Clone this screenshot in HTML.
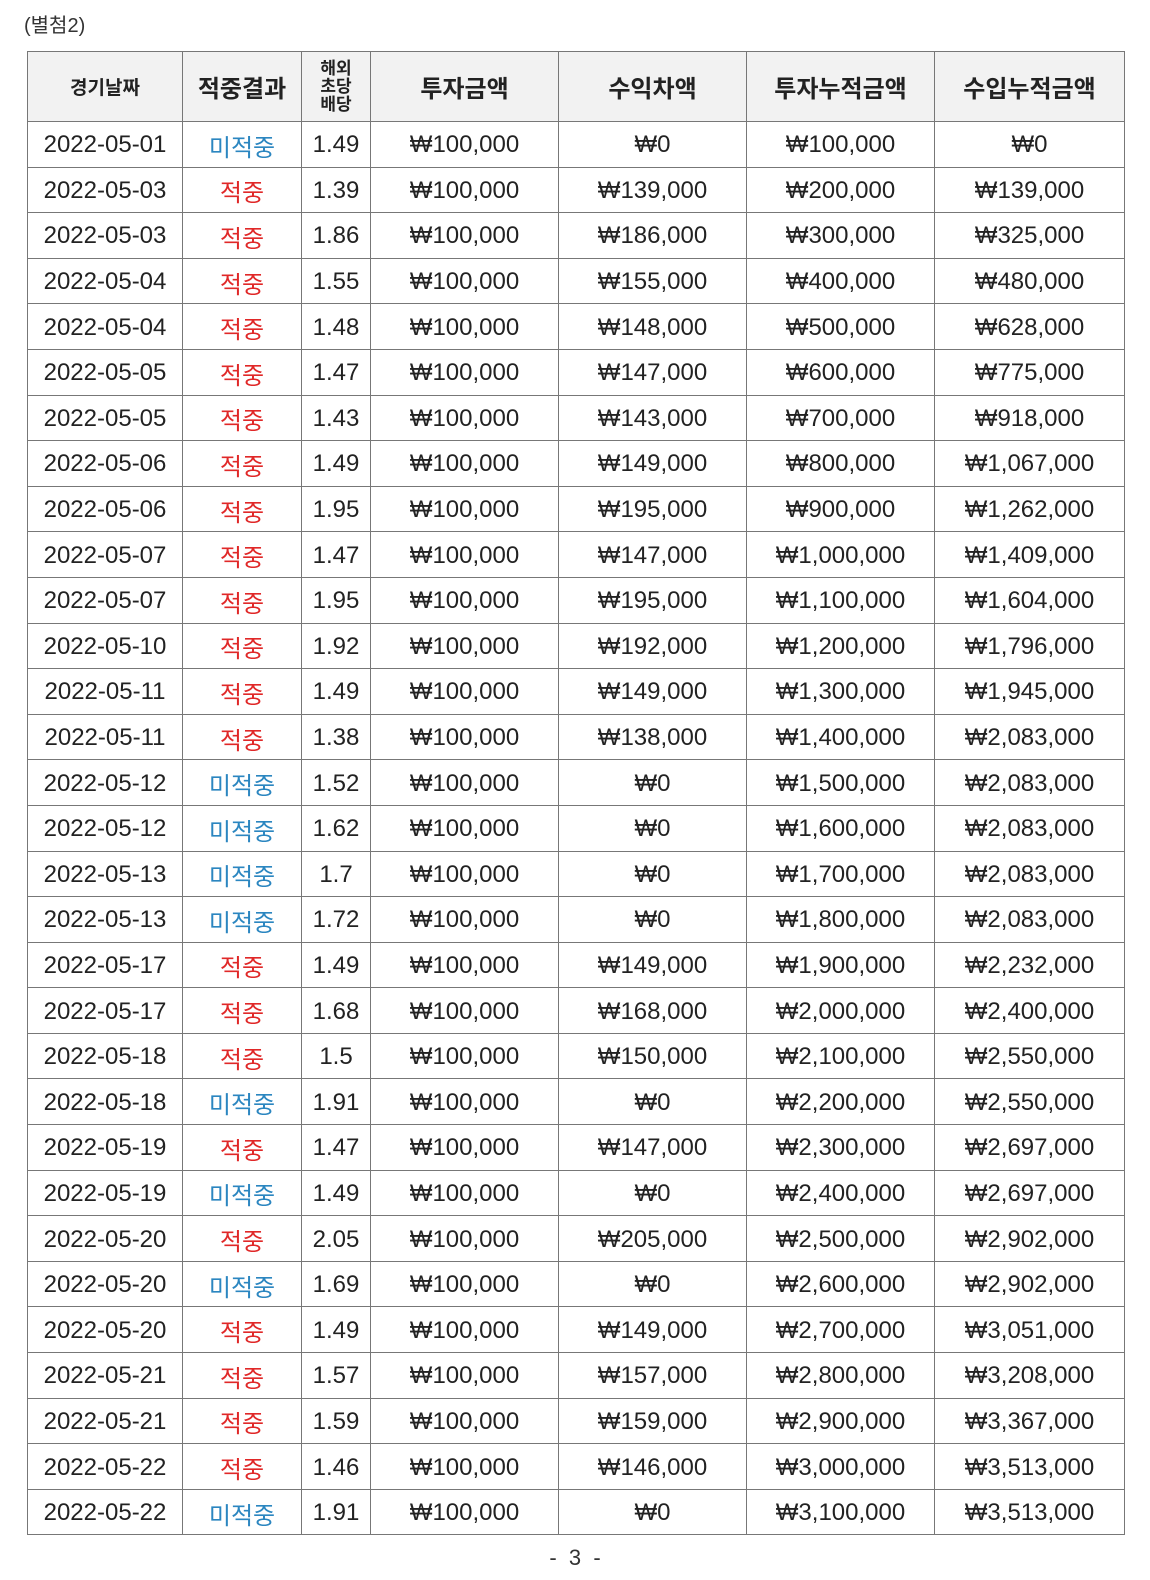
<!DOCTYPE html>
<html><head><meta charset="utf-8">
<style>
body{margin:0;width:1150px;height:1580px;background:#fff;position:relative;font-family:"Liberation Sans","Noto Sans CJK KR",sans-serif;color:#222;}
.cap{position:absolute;left:24px;top:9px;font-size:20px;color:#333;}
table{position:absolute;left:27px;top:51px;border-collapse:collapse;table-layout:fixed;width:1097px;}
td,th{border:1.5px solid #777;text-align:center;padding:0;font-size:24px;font-weight:normal;white-space:nowrap;overflow:hidden;}
td{padding-top:2px;}
th{background:#f2f2f2;font-weight:bold;font-size:24px;height:69px;color:#222;}
th.s{font-size:19px;}
th.t{font-size:17px;line-height:18px;}
tr.r td{height:42.6px;}
.b{color:#2b86c0;}
.r2{color:#e02828;}
.pg{position:absolute;left:0;width:1150px;top:1545px;text-align:center;font-size:22px;color:#333;}
</style></head><body>
<div class="cap">(별첨2)</div>
<table>
<colgroup><col style="width:155px"><col style="width:119px"><col style="width:69px"><col style="width:188px"><col style="width:188px"><col style="width:188px"><col style="width:190px"></colgroup>
<tr><th class="s">경기날짜</th><th>적중결과</th><th class="t">해외<br>초당<br>배당</th><th>투자금액</th><th>수익차액</th><th>투자누적금액</th><th>수입누적금액</th></tr>
<tr class="r"><td>2022-05-01</td><td class="b">미적중</td><td>1.49</td><td>₩100,000</td><td>₩0</td><td>₩100,000</td><td>₩0</td></tr>
<tr class="r"><td>2022-05-03</td><td class="r2">적중</td><td>1.39</td><td>₩100,000</td><td>₩139,000</td><td>₩200,000</td><td>₩139,000</td></tr>
<tr class="r"><td>2022-05-03</td><td class="r2">적중</td><td>1.86</td><td>₩100,000</td><td>₩186,000</td><td>₩300,000</td><td>₩325,000</td></tr>
<tr class="r"><td>2022-05-04</td><td class="r2">적중</td><td>1.55</td><td>₩100,000</td><td>₩155,000</td><td>₩400,000</td><td>₩480,000</td></tr>
<tr class="r"><td>2022-05-04</td><td class="r2">적중</td><td>1.48</td><td>₩100,000</td><td>₩148,000</td><td>₩500,000</td><td>₩628,000</td></tr>
<tr class="r"><td>2022-05-05</td><td class="r2">적중</td><td>1.47</td><td>₩100,000</td><td>₩147,000</td><td>₩600,000</td><td>₩775,000</td></tr>
<tr class="r"><td>2022-05-05</td><td class="r2">적중</td><td>1.43</td><td>₩100,000</td><td>₩143,000</td><td>₩700,000</td><td>₩918,000</td></tr>
<tr class="r"><td>2022-05-06</td><td class="r2">적중</td><td>1.49</td><td>₩100,000</td><td>₩149,000</td><td>₩800,000</td><td>₩1,067,000</td></tr>
<tr class="r"><td>2022-05-06</td><td class="r2">적중</td><td>1.95</td><td>₩100,000</td><td>₩195,000</td><td>₩900,000</td><td>₩1,262,000</td></tr>
<tr class="r"><td>2022-05-07</td><td class="r2">적중</td><td>1.47</td><td>₩100,000</td><td>₩147,000</td><td>₩1,000,000</td><td>₩1,409,000</td></tr>
<tr class="r"><td>2022-05-07</td><td class="r2">적중</td><td>1.95</td><td>₩100,000</td><td>₩195,000</td><td>₩1,100,000</td><td>₩1,604,000</td></tr>
<tr class="r"><td>2022-05-10</td><td class="r2">적중</td><td>1.92</td><td>₩100,000</td><td>₩192,000</td><td>₩1,200,000</td><td>₩1,796,000</td></tr>
<tr class="r"><td>2022-05-11</td><td class="r2">적중</td><td>1.49</td><td>₩100,000</td><td>₩149,000</td><td>₩1,300,000</td><td>₩1,945,000</td></tr>
<tr class="r"><td>2022-05-11</td><td class="r2">적중</td><td>1.38</td><td>₩100,000</td><td>₩138,000</td><td>₩1,400,000</td><td>₩2,083,000</td></tr>
<tr class="r"><td>2022-05-12</td><td class="b">미적중</td><td>1.52</td><td>₩100,000</td><td>₩0</td><td>₩1,500,000</td><td>₩2,083,000</td></tr>
<tr class="r"><td>2022-05-12</td><td class="b">미적중</td><td>1.62</td><td>₩100,000</td><td>₩0</td><td>₩1,600,000</td><td>₩2,083,000</td></tr>
<tr class="r"><td>2022-05-13</td><td class="b">미적중</td><td>1.7</td><td>₩100,000</td><td>₩0</td><td>₩1,700,000</td><td>₩2,083,000</td></tr>
<tr class="r"><td>2022-05-13</td><td class="b">미적중</td><td>1.72</td><td>₩100,000</td><td>₩0</td><td>₩1,800,000</td><td>₩2,083,000</td></tr>
<tr class="r"><td>2022-05-17</td><td class="r2">적중</td><td>1.49</td><td>₩100,000</td><td>₩149,000</td><td>₩1,900,000</td><td>₩2,232,000</td></tr>
<tr class="r"><td>2022-05-17</td><td class="r2">적중</td><td>1.68</td><td>₩100,000</td><td>₩168,000</td><td>₩2,000,000</td><td>₩2,400,000</td></tr>
<tr class="r"><td>2022-05-18</td><td class="r2">적중</td><td>1.5</td><td>₩100,000</td><td>₩150,000</td><td>₩2,100,000</td><td>₩2,550,000</td></tr>
<tr class="r"><td>2022-05-18</td><td class="b">미적중</td><td>1.91</td><td>₩100,000</td><td>₩0</td><td>₩2,200,000</td><td>₩2,550,000</td></tr>
<tr class="r"><td>2022-05-19</td><td class="r2">적중</td><td>1.47</td><td>₩100,000</td><td>₩147,000</td><td>₩2,300,000</td><td>₩2,697,000</td></tr>
<tr class="r"><td>2022-05-19</td><td class="b">미적중</td><td>1.49</td><td>₩100,000</td><td>₩0</td><td>₩2,400,000</td><td>₩2,697,000</td></tr>
<tr class="r"><td>2022-05-20</td><td class="r2">적중</td><td>2.05</td><td>₩100,000</td><td>₩205,000</td><td>₩2,500,000</td><td>₩2,902,000</td></tr>
<tr class="r"><td>2022-05-20</td><td class="b">미적중</td><td>1.69</td><td>₩100,000</td><td>₩0</td><td>₩2,600,000</td><td>₩2,902,000</td></tr>
<tr class="r"><td>2022-05-20</td><td class="r2">적중</td><td>1.49</td><td>₩100,000</td><td>₩149,000</td><td>₩2,700,000</td><td>₩3,051,000</td></tr>
<tr class="r"><td>2022-05-21</td><td class="r2">적중</td><td>1.57</td><td>₩100,000</td><td>₩157,000</td><td>₩2,800,000</td><td>₩3,208,000</td></tr>
<tr class="r"><td>2022-05-21</td><td class="r2">적중</td><td>1.59</td><td>₩100,000</td><td>₩159,000</td><td>₩2,900,000</td><td>₩3,367,000</td></tr>
<tr class="r"><td>2022-05-22</td><td class="r2">적중</td><td>1.46</td><td>₩100,000</td><td>₩146,000</td><td>₩3,000,000</td><td>₩3,513,000</td></tr>
<tr class="r"><td>2022-05-22</td><td class="b">미적중</td><td>1.91</td><td>₩100,000</td><td>₩0</td><td>₩3,100,000</td><td>₩3,513,000</td></tr>
</table>
<div class="pg">-&nbsp; 3 &nbsp;-</div>
</body></html>
